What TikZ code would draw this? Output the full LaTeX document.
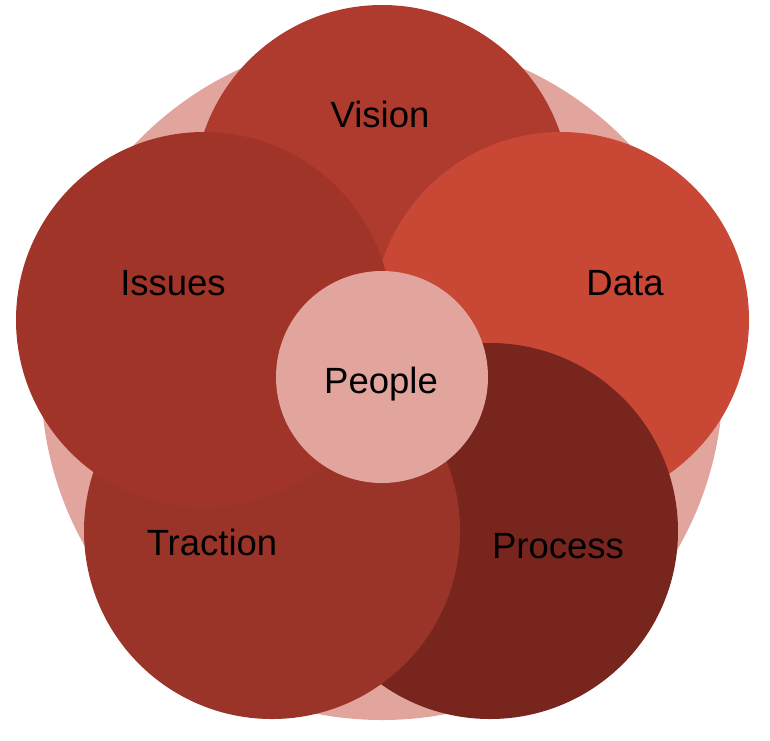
\documentclass[tikz,border=0pt]{standalone}
\usepackage{fontspec}
\setmainfont{Liberation Sans}
\definecolor{bgpink}{HTML}{E2A59E}
\definecolor{cvision}{HTML}{AF3B2E}
\definecolor{cdata}{HTML}{C84735}
\definecolor{cissues}{HTML}{A03429}
\definecolor{ctraction}{HTML}{9A3429}
\definecolor{cprocess}{HTML}{78251E}
\tikzset{
  disc/.style={circle, draw=none, inner sep=0pt, minimum size=376pt},
  lbl/.style={anchor=base, inner sep=0pt, text=black, font=\fontsize{36.5}{43}\selectfont}
}
\begin{document}
\begin{tikzpicture}[x=1pt,y=-1pt]
\useasboundingbox (0,0) rectangle (770,740);
\node[circle, fill=bgpink, inner sep=0pt, minimum size=682pt] (bg) at (382,379) {};
\node[disc, fill=cvision] (vision) at (382,193) {};
\node[disc, fill=cdata] (data) at (561,320) {};
\node[disc, fill=cprocess] (process) at (490,531) {};
\node[disc, fill=ctraction] (traction) at (272,531) {};
\node[disc, fill=cissues] (issues) at (204,320) {};
\node[circle, fill=bgpink, inner sep=0pt, minimum size=212pt] (people) at (382,377) {};
\node[lbl] (tvision) at (380,127) {Vision};
\node[lbl] (tissues) at (173,295) {Issues};
\node[lbl] (tdata) at (625,295) {Data};
\node[lbl] (tpeople) at (381,393) {People};
\node[lbl] (ttraction) at (212,555) {Traction};
\node[lbl] (tprocess) at (558,558) {Process};
\end{tikzpicture}
\end{document}
